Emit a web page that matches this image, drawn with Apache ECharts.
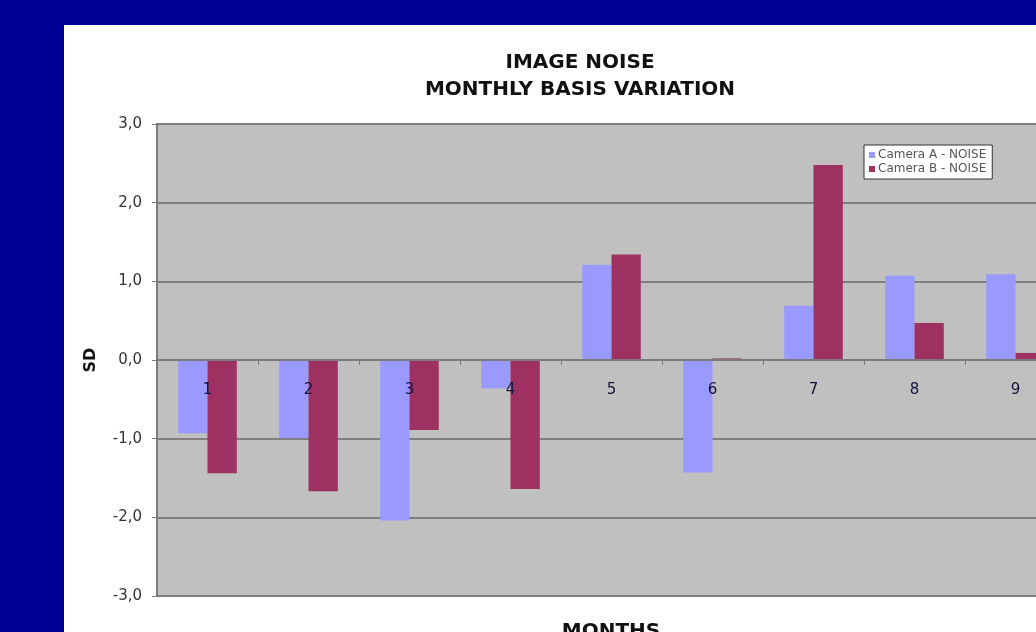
<!DOCTYPE html>
<html>
<head>
<meta charset="utf-8">
<title>Image Noise – Monthly Basis Variation</title>
<script src="https://cdn.jsdelivr.net/npm/echarts@6/dist/echarts.min.js"></script>
<style>
  html, body { margin: 0; padding: 0; background: #000099; }
  #chart { width: 1036px; height: 632px; }
</style>
</head>
<body>
<div id="chart"></div>
<script>
// Months on the category axis
const months = ['1', '2', '3', '4', '5', '6', '7', '8', '9'];

// Standard-deviation offsets of the noise, per camera
const cameraA = [-0.93, -0.99, -2.04, -0.36, 1.21, -1.43, 0.69, 1.07, 1.09];
const cameraB = [-1.44, -1.67, -0.89, -1.64, 1.34, 0.02, 2.48, 0.47, 0.09];

// Value axis range and step
const sdMin = -3;
const sdMax = 3;
const sdStep = 1;

const chart = echarts.init(document.getElementById('chart'), null, { renderer: 'canvas' });

const FONT = 'DejaVu Sans';
const GRID_TOP = 124;
const GRID_HEIGHT = 472;
// distance from the plot's bottom edge up to the zero line
const zeroLift = GRID_HEIGHT * (0 - sdMin) / (sdMax - sdMin);

chart.setOption({
  backgroundColor: '#000099',
  animation: false,
  graphic: [
    {
      type: 'rect',
      z: -10,
      silent: true,
      shape: { x: 64, y: 25, width: 1100, height: 700 },
      style: { fill: '#ffffff' }
    },
    {
      type: 'text',
      x: 611,
      y: 622,
      style: {
        text: 'MONTHS',
        font: 'bold 20px "' + FONT + '"',
        fill: '#111111',
        align: 'center',
        verticalAlign: 'top'
      }
    }
  ],
  title: {
    text: 'IMAGE NOISE\nMONTHLY BASIS VARIATION',
    left: 575,
    top: 44,
    textAlign: 'center',
    textStyle: {
      fontFamily: FONT,
      fontWeight: 'bold',
      fontSize: 20,
      lineHeight: 27,
      color: '#111111'
    }
  },
  legend: {
    orient: 'vertical',
    left: 864,
    top: 145,
    itemWidth: 6,
    itemHeight: 6,
    itemGap: 2,
    padding: [4, 6, 4, 5],
    backgroundColor: '#ffffff',
    borderColor: '#333333',
    borderWidth: 1,
    icon: 'rect',
    textStyle: { fontFamily: FONT, fontSize: 12, color: '#555555', padding: [0, 0, 0, -2] },
    data: ['Camera A - NOISE', 'Camera B - NOISE']
  },
  grid: {
    left: 157,
    top: GRID_TOP,
    right: -30,
    height: GRID_HEIGHT,
    outerBoundsMode: 'none',
    show: true,
    backgroundColor: '#c0c0c0',
    borderWidth: 0,
    containLabel: false
  },
  xAxis: {
    type: 'category',
    data: months,
    position: 'bottom',
    offset: -zeroLift,
    axisLine: { onZero: false, lineStyle: { color: '#7a7a7a', width: 2 } },
    axisTick: { show: true, length: 5, lineStyle: { color: '#7a7a7a', width: 1 } },
    axisLabel: {
      margin: 23,
      fontFamily: FONT,
      fontSize: 15,
      color: '#14143a'
    },
    splitLine: { show: false },
    z: 3
  },
  yAxis: {
    type: 'value',
    min: sdMin,
    max: sdMax,
    interval: sdStep,
    name: 'SD',
    nameLocation: 'middle',
    nameRotate: 90,
    nameGap: 58,
    nameTextStyle: { fontFamily: FONT, fontWeight: 'bold', fontSize: 16, color: '#111111' },
    axisLine: { show: true, lineStyle: { color: '#7a7a7a', width: 2 } },
    axisTick: { show: true, length: 5, lineStyle: { color: '#7a7a7a' } },
    axisLabel: {
      margin: 15,
      fontFamily: FONT,
      fontSize: 15,
      color: '#333333',
      formatter: v => v.toFixed(1).replace('.', ',')
    },
    splitLine: { show: true, lineStyle: { color: '#7f7f7f', width: 2 } }
  },
  series: [
    {
      name: 'Camera A - NOISE',
      type: 'bar',
      data: cameraA,
      barGap: '0%',
      barCategoryGap: '42%',
      itemStyle: { color: '#9999ff' }
    },
    {
      name: 'Camera B - NOISE',
      type: 'bar',
      data: cameraB,
      barGap: '0%',
      barCategoryGap: '42%',
      itemStyle: { color: '#9e3062' }
    }
  ]
});
</script>
</body>
</html>
